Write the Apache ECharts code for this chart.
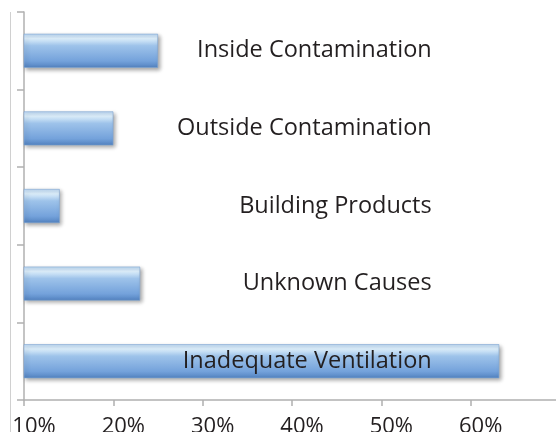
<!DOCTYPE html>
<html>
<head>
<meta charset="utf-8">
<style>
  html, body { margin: 0; padding: 0; background: #fff; }
  #main { width: 556px; height: 432px; }
</style>
<script src="https://cdn.jsdelivr.net/npm/echarts@6/dist/echarts.min.js"></script>
</head>
<body>
<div id="main"></div>
<script>
var causes = ['Inside Contamination', 'Outside Contamination', 'Building Products', 'Unknown Causes', 'Inadequate Ventilation'];
var shares = [25, 20, 14, 23, 63.2];
var tickValues = [10, 20, 30, 40, 50, 60, 70];

var chart = echarts.init(document.getElementById('main'));

var barFill = new echarts.graphic.LinearGradient(0, 0, 0, 1, [
  { offset: 0, color: '#bcd6f1' },
  { offset: 0.14, color: '#ddeffb' },
  { offset: 0.35, color: '#9ec3ea' },
  { offset: 0.8, color: '#74a2db' },
  { offset: 1, color: '#5282c0' }
]);

chart.setOption({
  animation: false,
  textStyle: { fontFamily: 'Open Sans' },
  grid: { left: 24, right: -4, top: 12, bottom: 32, containLabel: false, outerBoundsMode: 'none' },
  xAxis: {
    type: 'value',
    min: tickValues[0],
    max: tickValues[tickValues.length - 1],
    interval: 10,
    axisLine: { show: true, lineStyle: { color: '#b0b0b0', width: 1.5 } },
    axisTick: { show: true, length: 6, lineStyle: { color: '#b0b0b0', width: 1.5 } },
    splitLine: { show: false },
    axisLabel: {
      formatter: '{value}%',
      showMaxLabel: false,
      fontSize: 22,
      color: '#231f20',
      margin: 16,
      padding: [0, 0, 0, 20]
    }
  },
  yAxis: {
    type: 'category',
    data: causes,
    inverse: true,
    axisLine: { show: true, lineStyle: { color: '#b0b0b0', width: 1.5 } },
    axisTick: { show: true, length: 7, lineStyle: { color: '#b0b0b0', width: 1.5 } },
    axisLabel: { show: false }
  },
  graphic: [{
    type: 'line',
    shape: { x1: 10.5, y1: 12, x2: 10.5, y2: 432 },
    style: { stroke: '#d0d0d0', lineWidth: 1 }
  }],
  series: [{
    type: 'bar',
    data: shares,
    barWidth: 34,
    itemStyle: {
      color: barFill,
      borderColor: '#7fa6d4',
      borderWidth: 0.6,
      shadowColor: 'rgba(0,0,0,0.35)',
      shadowBlur: 4,
      shadowOffsetX: 2,
      shadowOffsetY: 2
    },
    label: {
      show: true,
      formatter: '{b}',
      position: [408, '50%'],
      align: 'right',
      verticalAlign: 'middle',
      fontSize: 23.5,
      color: '#231f20'
    }
  }]
});
</script>
</body>
</html>
